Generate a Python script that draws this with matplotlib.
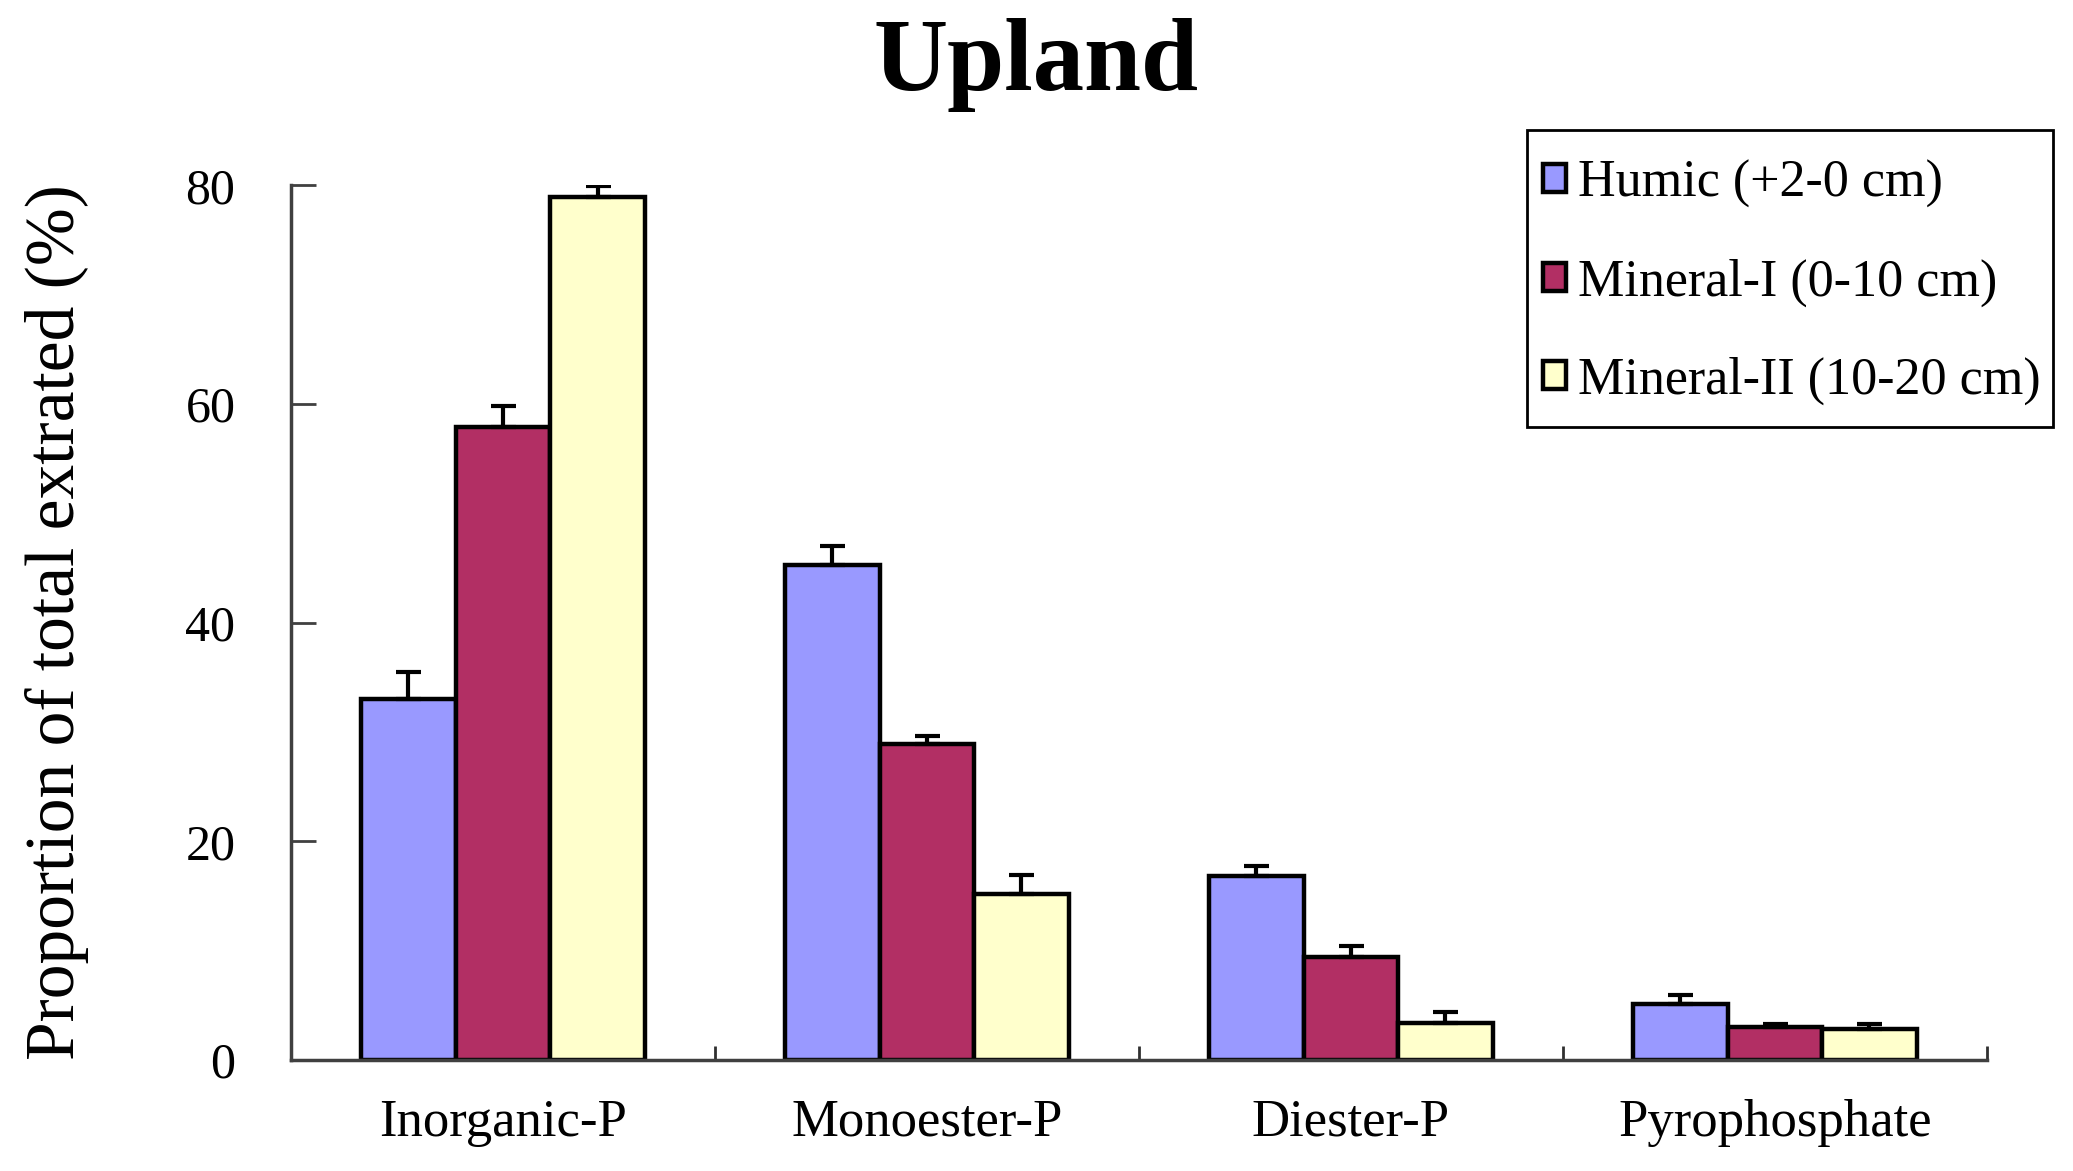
import matplotlib.pyplot as plt
from matplotlib.patches import Rectangle
import numpy as np

categories = ['Inorganic-P', 'Monoester-P', 'Diester-P', 'Pyrophosphate']
series = ['Humic (+2-0 cm)', 'Mineral-I (0-10 cm)', 'Mineral-II (10-20 cm)']
humic = [33.0, 45.3, 16.8, 5.1]
mineral_1 = [57.9, 28.9, 9.4, 3.0]
mineral_2 = [78.9, 15.2, 3.4, 2.8]
humic_err = [2.5, 1.7, 0.9, 0.8]
mineral_1_err = [1.9, 0.7, 1.0, 0.3]
mineral_2_err = [1.0, 1.7, 1.0, 0.5]
colors = ['#9999FF', '#B22F64', '#FFFFCC']

plt.rcParams['font.family'] = ['Liberation Serif', 'DejaVu Serif']

fig = plt.figure(figsize=(20.73, 11.71), dpi=100)
ax = fig.add_axes([0.1404, 0.0948, 0.818, 0.747])

x = np.arange(len(categories))
width = 0.223
values = [humic, mineral_1, mineral_2]
errs = [humic_err, mineral_1_err, mineral_2_err]
for i in range(3):
    ax.bar(x + (i - 1) * width, values[i], width, color=colors[i],
           edgecolor='black', linewidth=3.2, label=series[i],
           yerr=[np.zeros(4), errs[i]],
           error_kw=dict(ecolor='black', elinewidth=3, capsize=9, capthick=3))

ax.set_xlim(-0.5, 3.5)
ax.set_ylim(0, 80)
ax.set_yticks([0, 20, 40, 60, 80])
ax.set_xticks(x)
ax.set_xticklabels(categories)
ax.set_xticks(x + 0.5, minor=True)
ax.tick_params(axis='x', which='major', length=0, labelsize=38, pad=28)
ax.tick_params(axis='x', which='minor', direction='in', length=10, width=2, color='#303030')
ax.tick_params(axis='y', direction='in', length=18, width=2, color='#404040', labelsize=36, pad=40)

for s in ['top', 'right']:
    ax.spines[s].set_visible(False)
for s in ['left', 'bottom']:
    ax.spines[s].set_linewidth(2.5)
    ax.spines[s].set_color('#404040')

ax.set_ylabel('Proportion of total extrated (%)', fontsize=50)
ax.yaxis.set_label_coords(-0.119, 0.5)
fig.suptitle('Upland', fontsize=74, fontweight='bold', y=0.985)

# legend frame drawn separately: the original has small side padding, tall rows
fig.patches.append(Rectangle((1527 / 2073, 1 - 427 / 1171), 526 / 2073, 297 / 1171,
                             transform=fig.transFigure, facecolor='white',
                             edgecolor='black', linewidth=2, zorder=3))
handles, labels = ax.get_legend_handles_labels()
leg = fig.legend(handles, labels, loc='upper left',
                 bbox_to_anchor=(1543 / 2073, 1 - 160 / 1171),
                 bbox_transform=fig.transFigure, fontsize=37.5, frameon=False,
                 handlelength=0.45, handleheight=0.45, handletextpad=0.22,
                 labelspacing=0.96, borderpad=0, borderaxespad=0)
leg.set_zorder(5)

plt.savefig('out.png', dpi=100)
